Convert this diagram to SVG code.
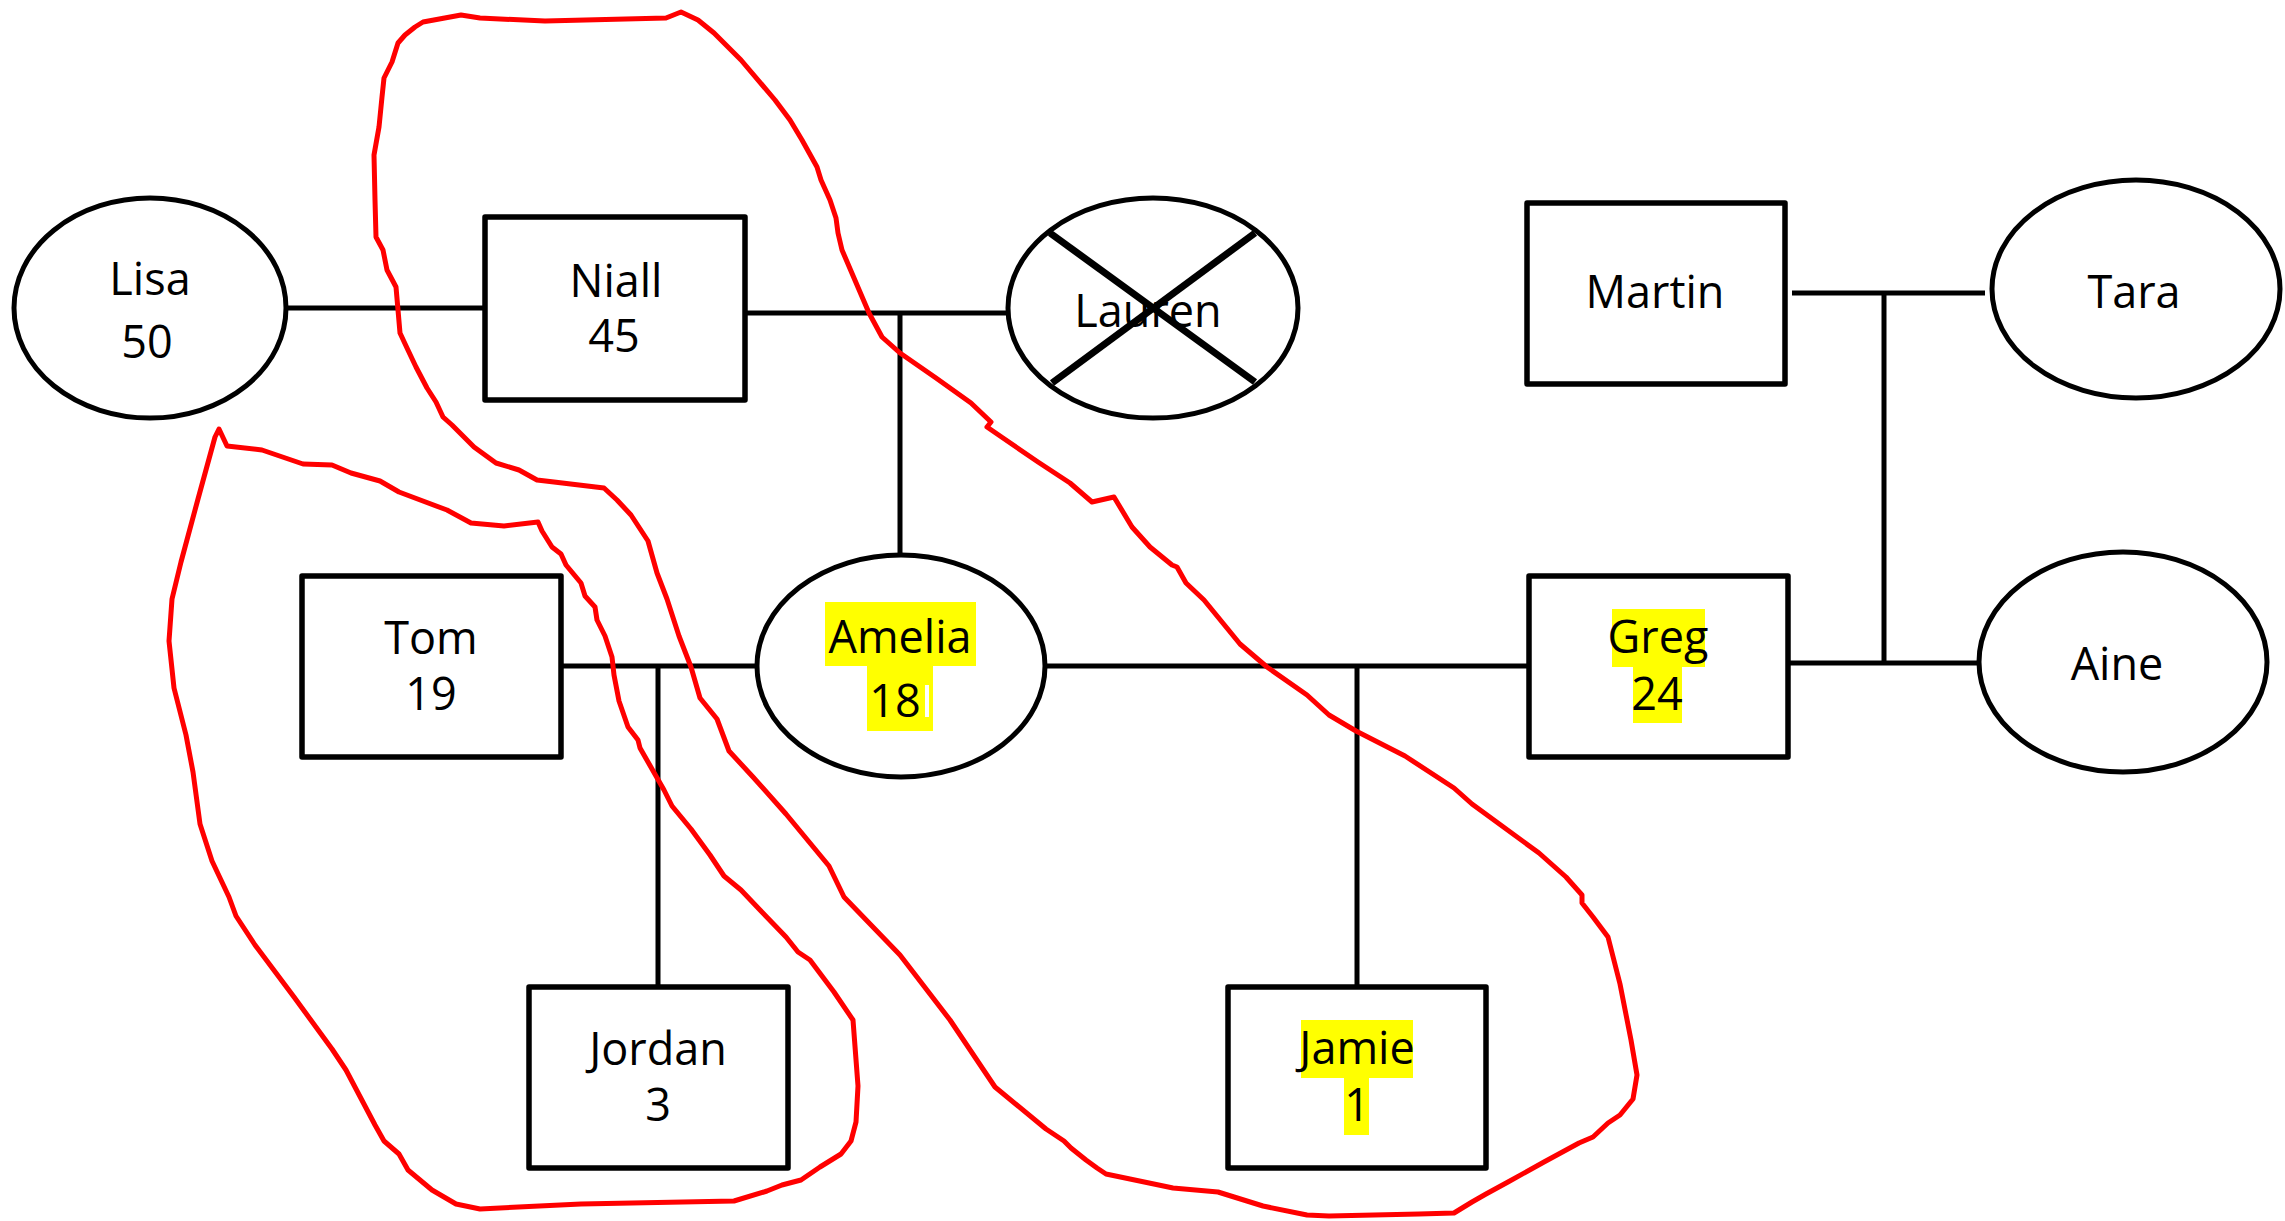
<svg xmlns="http://www.w3.org/2000/svg" width="2285" height="1221" viewBox="0 0 2285 1221">
<style>
.box{fill:#fff;stroke:#000;stroke-width:5.5;stroke-linejoin:round}
.oval{fill:#fff;stroke:#000;stroke-width:5}
.con{stroke:#000;stroke-width:5;fill:none}
.cross{stroke:#000;stroke-width:7;fill:none}
.hl{fill:#ffff00}
.t{font-family:"Open Sans","Noto Sans",sans-serif;font-size:45px;fill:#000;text-anchor:middle}
.red{fill:none;stroke:#ff0000;stroke-width:5;stroke-linejoin:round;stroke-linecap:round}
</style>
<rect width="2285" height="1221" fill="#fff"/>
<g id="connectors">
<line class="con" x1="287" y1="308" x2="485" y2="308"/>
<line class="con" x1="745" y1="313" x2="1008" y2="313"/>
<line class="con" x1="900" y1="313" x2="900" y2="555"/>
<line class="con" x1="561" y1="666" x2="756" y2="666"/>
<line class="con" x1="658" y1="666" x2="658" y2="987"/>
<line class="con" x1="1045" y1="666" x2="1529" y2="666"/>
<line class="con" x1="1357" y1="666" x2="1357" y2="987"/>
<line class="con" x1="1792" y1="293" x2="1985" y2="293"/>
<line class="con" x1="1884" y1="293" x2="1884" y2="663"/>
<line class="con" x1="1788" y1="663" x2="1979" y2="663"/>
</g>
<g id="lisa">
<ellipse class="oval" cx="150" cy="308" rx="136" ry="110"/>
<text class="t" x="150" y="295">Lisa</text>
<text class="t" x="147" y="358">50</text>
</g>
<g id="niall">
<rect class="box" x="485" y="217" width="260" height="183"/>
<text class="t" x="616" y="297">Niall</text>
<text class="t" x="614" y="352">45</text>
</g>
<g id="lauren">
<ellipse class="oval" cx="1153" cy="308" rx="145" ry="110"/>
<text class="t" x="1148" y="327">Lauren</text>
<line class="cross" x1="1050" y1="233" x2="1255" y2="382"/>
<line class="cross" x1="1255" y1="233" x2="1052" y2="383"/>
</g>
<g id="martin">
<rect class="box" x="1527" y="203" width="258" height="181"/>
<text class="t" x="1655" y="308">Martin</text>
</g>
<g id="tara">
<ellipse class="oval" cx="2136" cy="289" rx="144" ry="109"/>
<text class="t" x="2134" y="308">Tara</text>
</g>
<g id="tom">
<rect class="box" x="302" y="576" width="259" height="181"/>
<text class="t" x="431" y="654">Tom</text>
<text class="t" x="431" y="710">19</text>
</g>
<g id="amelia">
<ellipse class="oval" cx="901" cy="666" rx="144" ry="111"/>
<rect class="hl" x="825" y="602" width="151" height="64"/>
<rect class="hl" x="867" y="666" width="66" height="65"/>
<rect fill="#fff" x="925" y="685" width="4" height="32"/>
<text class="t" x="900" y="653">Amelia</text>
<text class="t" x="895" y="717">18</text>
</g>
<g id="greg">
<rect class="box" x="1529" y="576" width="259" height="181"/>
<rect class="hl" x="1612" y="609" width="93" height="58"/>
<rect class="hl" x="1633" y="667" width="49" height="56"/>
<text class="t" x="1658" y="653">Greg</text>
<text class="t" x="1657" y="710">24</text>
</g>
<g id="aine">
<ellipse class="oval" cx="2123" cy="662" rx="144" ry="110"/>
<text class="t" x="2117" y="680">Aine</text>
</g>
<g id="jordan">
<rect class="box" x="529" y="987" width="259" height="181"/>
<text class="t" x="658" y="1065">Jordan</text>
<text class="t" x="658" y="1121">3</text>
</g>
<g id="jamie">
<rect class="box" x="1228" y="987" width="258" height="181"/>
<rect class="hl" x="1301" y="1020" width="112" height="58"/>
<rect class="hl" x="1344" y="1078" width="25" height="57"/>
<text class="t" x="1357" y="1064">Jamie</text>
<text class="t" x="1357" y="1121">1</text>
</g>
<g id="annotations">
<path class="red" d="M666,18 L545,21 L480,18 L461,15 L423,22 L415,27 L405,35 L398,43 L392,62 L384,78 L382,97 L379,127 L374,155 L375,200 L376,237 L383,250 L387,270 L396,287 L400,333 L407,348 L416,367 L427,388 L436,402 L443,417 L452,425 L474,447 L496,463 L519,470 L537,480 L554,482 L604,488 L617,500 L631,515 L648,541 L657,573 L667,599 L679,636 L691,667 L700,698 L717,719 L729,751 L753,777 L786,814 L829,866 L844,897 L900,955 L950,1020 L995,1087 L1046,1129 L1064,1141 L1071,1148 L1086,1160 L1097,1168 L1106,1174 L1173,1188 L1218,1192 L1263,1206 L1307,1215 L1329,1216 L1419,1214 L1454,1213 L1472,1202 L1486,1194 L1508,1182 L1544,1162 L1579,1143 L1593,1137 L1608,1123 L1620,1115 L1633,1099 L1637,1075 L1631,1040 L1620,984 L1608,937 L1593,917 L1582,903 L1582,895 L1566,877 L1539,853 L1472,804 L1454,788 L1405,756 L1356,731 L1329,715 L1307,695 L1267,667 L1240,644 L1204,600 L1186,583 L1177,567 L1172,565 L1150,547 L1132,527 L1114,497 L1092,502 L1070,483 L1038,462 L1003,438 L987,427 L991,422 L971,403 L936,378 L900,353 L882,337 L869,313 L842,250 L838,233 L836,218 L830,200 L821,180 L817,167 L802,140 L790,120 L775,100 L741,60 L714,33 L698,20 L681,12 Z"/>
<path class="red" d="M219,429 L227,446 L262,450 L303,464 L332,465 L351,473 L380,481 L399,492 L447,510 L471,523 L504,526 L538,522 L542,531 L552,547 L561,554 L566,565 L581,583 L585,596 L595,607 L597,620 L605,636 L612,657 L614,675 L619,701 L628,727 L638,740 L640,748 L652,769 L664,790 L672,806 L691,829 L710,855 L724,876 L741,890 L760,910 L786,937 L798,952 L810,960 L834,992 L853,1020 L858,1086 L856,1122 L851,1141 L841,1154 L820,1167 L801,1180 L782,1185 L767,1191 L734,1201 L581,1204 L480,1209 L456,1204 L432,1190 L408,1170 L399,1154 L384,1141 L375,1125 L346,1070 L332,1049 L294,997 L255,945 L236,916 L229,897 L212,861 L200,824 L193,772 L186,735 L174,688 L169,641 L172,599 L181,562 L198,499 L215,437 Z"/>
</g>
</svg>
